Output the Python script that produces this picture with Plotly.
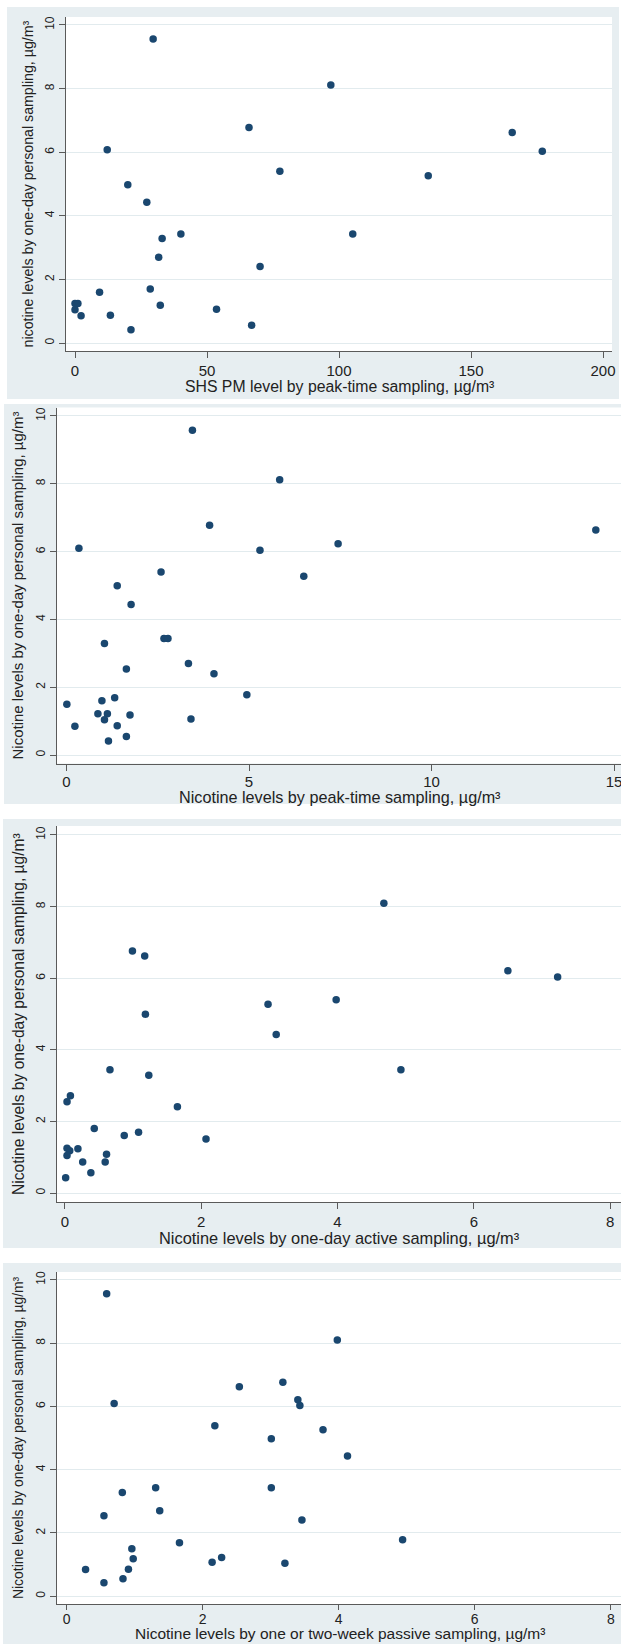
import plotly.graph_objects as go

# ---------------- data ----------------
# Panel 1: SHS PM level by peak-time sampling vs nicotine (one-day personal)
p1_x = [29.6, 96.9, 65.9, 165.6, 12.2, 177.0, 77.6, 133.8, 20.0, 27.2, 40.1, 105.2, 33.0,
        31.7, 70.1, 28.5, 9.3, 0.0, 1.1, 32.3, 0.0, 53.6, 2.3, 13.4, 66.9, 21.2]
p1_y = [9.56, 8.11, 6.78, 6.62, 6.08, 6.03, 5.40, 5.26, 4.98, 4.43, 3.43, 3.43, 3.29,
        2.70, 2.41, 1.70, 1.60, 1.24, 1.24, 1.19, 1.05, 1.06, 0.86, 0.87, 0.56, 0.42]

# Panel 2: nicotine by peak-time sampling vs nicotine (one-day personal)
p2_x = [3.45, 5.84, 3.92, 14.50, 0.34, 7.44, 5.30, 6.50, 2.59, 1.39, 1.77, 2.67, 2.78, 1.04,
        3.34, 4.04, 1.64, 4.94, 1.32, 0.97, 0.01, 0.86, 1.12, 1.74, 1.04, 3.41, 0.23, 1.39,
        1.64, 1.15]
p2_y = [9.58, 8.12, 6.78, 6.64, 6.10, 6.23, 6.04, 5.27, 5.40, 4.99, 4.44, 3.44, 3.44, 3.29,
        2.70, 2.40, 2.54, 1.78, 1.69, 1.60, 1.50, 1.22, 1.22, 1.18, 1.04, 1.06, 0.85, 0.86,
        0.55, 0.41]

# Panel 3: nicotine by one-day active sampling vs nicotine (one-day personal)
p3_x = [4.68, 0.99, 1.17, 6.50, 7.23, 3.98, 2.98, 1.18, 3.10, 0.66, 4.93, 1.23, 0.08, 0.03,
        1.65, 0.43, 1.08, 0.87, 2.07, 0.03, 0.19, 0.07, 0.03, 0.61, 0.26, 0.59, 0.38, 0.01]
p3_y = [8.09, 6.76, 6.62, 6.21, 6.03, 5.40, 5.27, 4.99, 4.43, 3.44, 3.44, 3.29, 2.72, 2.55,
        2.41, 1.80, 1.70, 1.61, 1.51, 1.25, 1.24, 1.18, 1.05, 1.08, 0.87, 0.87, 0.57, 0.43]

# Panel 4: nicotine by one or two-week passive sampling vs nicotine (one-day personal)
p4_x = [0.59, 3.98, 3.18, 2.54, 3.40, 3.43, 0.70, 2.18, 3.77, 3.01, 4.13, 1.31, 3.01, 0.82,
        1.37, 0.55, 3.46, 4.94, 1.66, 0.96, 0.98, 2.28, 2.14, 3.21, 0.28, 0.91, 0.83, 0.55]
p4_y = [9.56, 8.10, 6.76, 6.62, 6.21, 6.03, 6.09, 5.39, 5.26, 4.98, 4.43, 3.43, 3.43, 3.28,
        2.70, 2.54, 2.41, 1.78, 1.69, 1.50, 1.18, 1.22, 1.07, 1.04, 0.84, 0.85, 0.55, 0.42]

x_titles = ["SHS PM level by peak-time sampling, µg/m³",
            "Nicotine levels by peak-time sampling, µg/m³",
            "Nicotine levels by one-day active sampling, µg/m³",
            "Nicotine levels by one or two-week passive sampling, µg/m³"]
y_titles = ["nicotine levels by one-day personal sampling, µg/m³",
            "Nicotine levels by one-day personal sampling, µg/m³",
            "Nicotine levels by one-day personal sampling, µg/m³",
            "Nicotine levels by one-day personal sampling, µg/m³"]
x_dticks = [50, 5, 2, 2]

# ---------------- layout geometry (pixels) ----------------
W, H = 621, 1644
panels = [
    dict(bg=(7, 7, 619, 399), plot=(66, 17, 612, 351), xr=(-3.41, 203.4),
         xt_y=386, yt_x=27.5, xt_fs=15.8, yt_fs=14.2, xfs=15, tl=6, tso=0),
    dict(bg=(4, 404, 621, 804), plot=(57, 407.5, 621, 763.5), xr=(-0.26, 15.19),
         xt_y=797, yt_x=17, xt_fs=16.2, yt_fs=15.0, xfs=15, tl=6, tso=-2),
    dict(bg=(3, 819, 621, 1248), plot=(57, 826, 621, 1202), xr=(-0.117, 8.16),
         xt_y=1238, yt_x=18, xt_fs=16.4, yt_fs=15.6, xfs=15, tl=6, tso=0),
    dict(bg=(3, 1263, 621, 1644), plot=(57, 1272, 621, 1604), xr=(-0.14, 8.15),
         xt_y=1633, yt_x=18, xt_fs=15.5, yt_fs=13.9, xfs=14, tl=5, tso=-3),
]

BG = "#e7eef1"
GRID = "#e2ebee"
AXIS = "#5a5a5a"
DOT = "#1a476f"
FONT = "Liberation Sans, Arial, sans-serif"

fig = go.Figure()
datasets = [(p1_x, p1_y), (p2_x, p2_y), (p3_x, p3_y), (p4_x, p4_y)]
shapes = []
annotations = []
layout_axes = {}

for i, (pn, (xs, ys)) in enumerate(zip(panels, datasets), start=1):
    sfx = "" if i == 1 else str(i)
    fig.add_trace(go.Scatter(
        x=xs, y=ys, mode="markers",
        marker=dict(size=7.5, color=DOT, line=dict(width=0)),
        xaxis="x" + sfx, yaxis="y" + sfx, showlegend=False, hoverinfo="x+y"))

    bx0, by0, bx1, by1 = pn["bg"]
    px0, py0, px1, py1 = pn["plot"]
    shapes.append(dict(type="rect", xref="paper", yref="paper", layer="below",
                       x0=bx0 / W, x1=bx1 / W, y0=1 - by1 / H, y1=1 - by0 / H,
                       fillcolor=BG, line=dict(width=0)))
    shapes.append(dict(type="rect", xref="paper", yref="paper", layer="below",
                       x0=px0 / W, x1=px1 / W, y0=1 - py1 / H, y1=1 - py0 / H,
                       fillcolor="white", line=dict(width=0)))

    layout_axes["xaxis" + sfx] = dict(
        domain=[px0 / W, px1 / W], anchor="y" + sfx, range=list(pn["xr"]),
        tickmode="linear", tick0=0, dtick=x_dticks[i - 1],
        showgrid=False, zeroline=False, showline=True, linecolor=AXIS, linewidth=1,
        ticks="outside", ticklen=pn["tl"], tickwidth=1, tickcolor=AXIS,
        ticklabeloverflow="allow", ticklabelstandoff=pn["tso"],
        tickfont=dict(family=FONT, size=pn["xfs"], color="#222222"))
    layout_axes["yaxis" + sfx] = dict(
        domain=[1 - py1 / H, 1 - py0 / H], anchor="x" + sfx, range=[-0.25, 10.25],
        tickmode="linear", tick0=0, dtick=2, tickangle=-90,
        showgrid=True, gridcolor=GRID, gridwidth=1.2,
        zeroline=False, showline=True, linecolor=AXIS, linewidth=1,
        ticks="outside", ticklen=6, tickwidth=1, tickcolor=AXIS,
        tickfont=dict(family=FONT, size=12, color="#222222"))

    annotations.append(dict(
        text=x_titles[i - 1], xref="paper", yref="paper",
        x=((px0 + px1) / 2 + 0.5) / W, y=1 - pn["xt_y"] / H,
        xanchor="center", yanchor="middle", showarrow=False,
        font=dict(family=FONT, size=pn["xt_fs"], color="#222222")))
    annotations.append(dict(
        text=y_titles[i - 1], xref="paper", yref="paper",
        x=pn["yt_x"] / W, y=1 - ((py0 + py1) / 2) / H,
        xanchor="center", yanchor="middle", textangle=-90, showarrow=False,
        font=dict(family=FONT, size=pn["yt_fs"], color="#222222")))

fig.update_layout(
    template="none",
    width=W, height=H, autosize=False,
    margin=dict(l=0, r=0, t=0, b=0, pad=0),
    paper_bgcolor="white", plot_bgcolor="rgba(0,0,0,0)",
    font=dict(family=FONT, color="#222222"),
    shapes=shapes, annotations=annotations, showlegend=False,
    **layout_axes)

fig.write_html("out.html")
